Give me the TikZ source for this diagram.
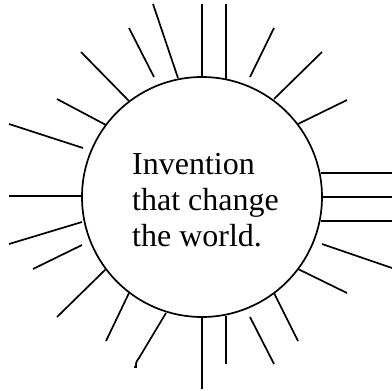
\documentclass[tikz,border=0pt]{standalone}
\usepackage{fontspec}
\setmainfont{Liberation Serif}
\begin{document}
\begin{tikzpicture}[x=1pt,y=-1pt,
  ray/.style={line width=1.7pt,line cap=butt},
  rim/.style={circle,draw,line width=1.7pt,minimum size=240pt,inner sep=0pt},
  label/.style={anchor=base west,inner sep=0pt,font=\fontsize{32}{36}\selectfont}]
\useasboundingbox (0,0) rectangle (392,391);
\node[rim] (sun) at (202,197) {};
\node[label] (l1) at (132,174) {Invention};
\node[label] (l2) at (132,210) {that change};
\node[label] (l3) at (132,246) {the world.};
% top rays
\draw[ray] (202,4) -- (202,77);
\draw[ray] (226,4) -- (226,79);
\draw[ray] (153,4) -- (178,78);
\draw[ray] (129,28) -- (154,77);
\draw[ray] (81,52) -- (129,101);
\draw[ray] (57,99) -- (106,125);
\draw[ray] (9,124) -- (83,148);
\draw[ray] (9,196) -- (82,196);
% right
\draw[ray] (250,77) -- (274,28);
\draw[ray] (274,99) -- (322,52);
\draw[ray] (298,124) -- (347,100);
\draw[ray] (321,173) -- (392,173);
\draw[ray] (322,197) -- (392,197);
\draw[ray] (321,221) -- (392,221);
\draw[ray] (322,244) -- (392,268);
\draw[ray] (298,269) -- (347,293);
\draw[ray] (274,293) -- (298,341);
\draw[ray] (250,317) -- (274,364);
% bottom
\draw[ray] (226,316) -- (226,364);
\draw[ray] (202,317) -- (202,389);
\draw[ray] (166,313) -- (139,358) .. controls (136,362) .. (136,367) -- (134,367);
\draw[ray] (129,293) -- (106,341);
\draw[ray] (106,269) -- (57,317);
\draw[ray] (82,245) -- (33,269);
\draw[ray] (82,222) -- (9,244);
\end{tikzpicture}
\end{document}
